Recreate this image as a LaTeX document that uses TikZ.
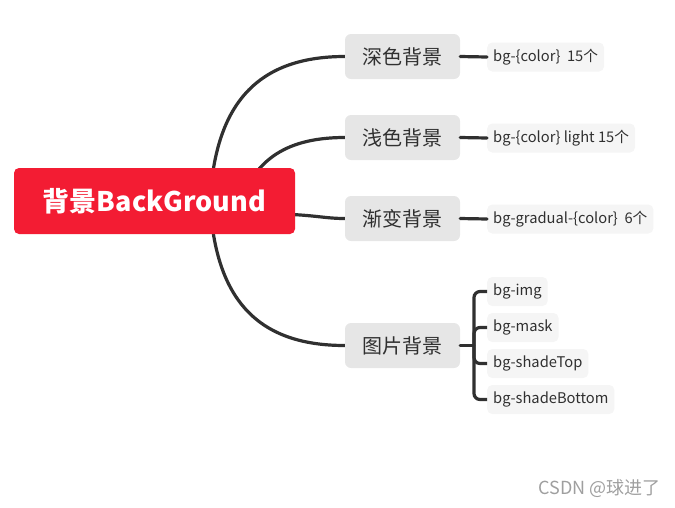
\documentclass[tikz,border=0pt]{standalone}
\usepackage{fontspec}
\setmainfont{Noto Sans CJK SC}
\usetikzlibrary{backgrounds}
\definecolor{rootred}{RGB}{243,28,51}
\definecolor{linegray}{RGB}{48,48,48}
\definecolor{topicgray}{RGB}{230,230,230}
\definecolor{leafgray}{RGB}{245,245,245}
\tikzset{
  roottopic/.style={fill=rootred, text=white, rounded corners=5pt, minimum width=281pt, minimum height=66pt, font=\fontsize{27}{30}\selectfont\bfseries},
  subtopic/.style={fill=topicgray, text=linegray, rounded corners=6pt, minimum width=115pt, minimum height=45pt, font=\fontsize{20}{24}\selectfont},
  leaftopic/.style={fill=leafgray, text=linegray, rounded corners=5pt, minimum height=29pt, inner xsep=6pt, anchor=west, font=\fontsize{14.7}{17}\selectfont},
  branch/.style={draw=linegray, line width=3.2pt, line cap=round},
}

\begin{document}
\begin{tikzpicture}[x=1pt,y=-1pt]
  \useasboundingbox (0,0) rectangle (675,507);

  % central topic
  \node[roottopic] (root) at (154.5,201) {背景BackGround};

  % main branches
  \node[subtopic] (dark) at (402.5,56.5) {深色背景};
  \node[subtopic] (light) at (402.5,137.5) {浅色背景};
  \node[subtopic] (grad) at (402.5,218.5) {渐变背景};
  \node[subtopic] (pic) at (402.5,345.5) {图片背景};

  % leaves
  \node[leaftopic] (darkleaf) at (487,57) {bg-\{color\}\ \ 15个};
  \node[leaftopic] (lightleaf) at (487,138) {bg-\{color\} light 15个};
  \node[leaftopic] (gradleaf) at (487,219) {bg-gradual-\{color\}\ \ 6个};
  \node[leaftopic] (img) at (487,291.5) {bg-img};
  \node[leaftopic] (mask) at (487,327.5) {bg-mask};
  \node[leaftopic] (shtop) at (487,363.5) {bg-shadeTop};
  \node[leaftopic] (shbot) at (487,399.5) {bg-shadeBottom};

  \node[text=gray!75, font=\fontsize{18}{20}\selectfont, anchor=east] (mark) at (664,488) {CSDN @球进了};

  % hidden start points of the curves
  \coordinate (hub) at (210,201);
  \coordinate (hub2) at (240,201);
  \coordinate (hub3) at (280,214);
  \coordinate (imghub) at (474,345.5);

  \begin{scope}[on background layer]
    \draw[branch] (hub) .. controls (215,110) and (252,56.5) .. (dark.west);
    \draw[branch] (hub2) .. controls (255,165) and (280,137.5) .. (light.west);
    \draw[branch] (hub3) .. controls (315,215) and (325,218.5) .. (grad.west);
    \draw[branch] (hub) .. controls (215,300) and (258,345.5) .. (pic.west);
  \end{scope}

  % leaf connectors
  \draw[branch] (dark.east) -- (darkleaf.west);
  \draw[branch] (light.east) -- (lightleaf.west);
  \draw[branch] (grad.east) -- (gradleaf.west);
  \draw[branch] (pic.east) -- (imghub);
  \foreach \leaf in {img,mask,shtop,shbot}
    \draw[branch, line cap=butt, rounded corners=6pt] (imghub) |- (\leaf.west);
\end{tikzpicture}
\end{document}
